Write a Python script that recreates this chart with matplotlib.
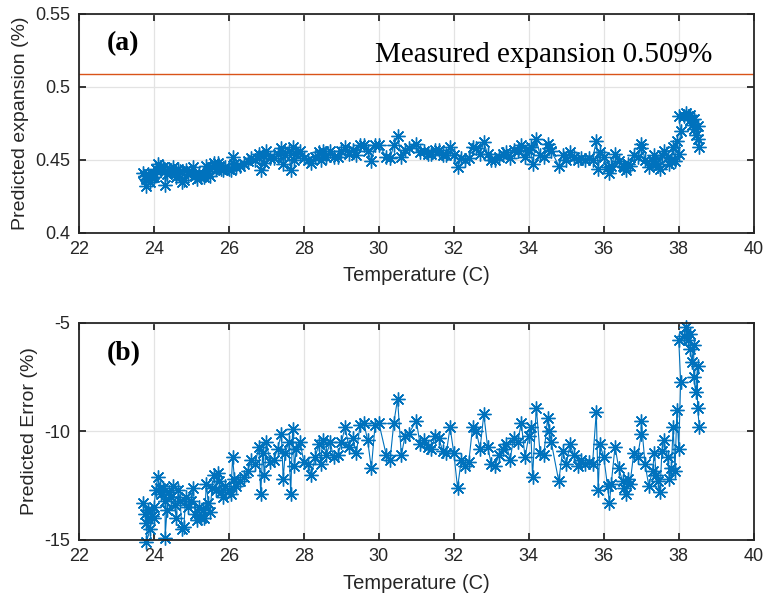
import matplotlib
matplotlib.use("Agg")
import matplotlib.pyplot as plt
from matplotlib.ticker import FuncFormatter, MultipleLocator

temperature = [
    23.70, 23.75, 23.80, 23.85, 23.80, 23.90, 23.95, 24.00, 24.00, 24.05,
    24.10, 24.15, 24.20, 24.25, 24.30, 24.30, 24.35, 24.40, 24.45, 24.50,
    24.55, 24.60, 24.65, 24.70, 24.75, 24.80, 24.85, 24.90, 25.00, 25.05,
    25.10, 25.15, 25.20, 25.25, 25.30, 25.35, 25.40, 25.45, 25.50, 25.55,
    25.60, 25.65, 25.70, 25.75, 25.80, 25.85, 25.90, 26.00, 26.05, 26.10,
    26.15, 26.20, 26.30, 26.40, 26.50, 26.60, 26.70, 26.80, 26.85, 26.90,
    26.95, 27.00, 27.10, 27.20, 27.30, 27.40, 27.45, 27.50, 27.60, 27.65,
    27.70, 27.75, 27.80, 27.90, 28.00, 28.10, 28.20, 28.30, 28.40, 28.45,
    28.50, 28.60, 28.70, 28.80, 28.90, 29.00, 29.10, 29.20, 29.30, 29.40,
    29.50, 29.60, 29.70, 29.80, 29.90, 30.00, 30.20, 30.30, 30.40, 30.50,
    30.60, 30.70, 30.80, 31.00, 31.10, 31.20, 31.30, 31.40, 31.50, 31.60,
    31.70, 31.80, 31.90, 32.00, 32.10, 32.20, 32.30, 32.40, 32.50, 32.60,
    32.70, 32.80, 32.90, 33.00, 33.10, 33.20, 33.30, 33.40, 33.50, 33.60,
    33.70, 33.80, 33.90, 34.00, 34.05, 34.10, 34.20, 34.30, 34.40, 34.50,
    34.55, 34.60, 34.80, 34.90, 35.00, 35.10, 35.20, 35.30, 35.40, 35.50,
    35.60, 35.70, 35.80, 35.85, 35.90, 36.00, 36.10, 36.15, 36.20, 36.30,
    36.40, 36.50, 36.55, 36.60, 36.65, 36.70, 36.80, 36.90, 37.00, 37.00,
    37.10, 37.20, 37.30, 37.35, 37.40, 37.45, 37.50, 37.55, 37.60, 37.70,
    37.75, 37.80, 37.85, 37.90, 37.95, 38.00, 38.05, 38.00, 38.15, 38.20,
    38.25, 38.30, 38.30, 38.35, 38.40, 38.40, 38.45, 38.50, 38.50, 38.55,
]

predicted_expansion = [
    0.441, 0.439, 0.437, 0.440, 0.432, 0.435, 0.438, 0.438, 0.440, 0.444,
    0.447, 0.445, 0.443, 0.445, 0.442, 0.433, 0.440, 0.444, 0.443, 0.445,
    0.441, 0.438, 0.444, 0.442, 0.435, 0.436, 0.443, 0.440, 0.442, 0.445,
    0.439, 0.437, 0.440, 0.438, 0.440, 0.438, 0.446, 0.441, 0.439, 0.445,
    0.448, 0.444, 0.448, 0.446, 0.444, 0.443, 0.445, 0.444, 0.443, 0.452,
    0.447, 0.445, 0.446, 0.447, 0.449, 0.451, 0.450, 0.454, 0.443, 0.453,
    0.448, 0.456, 0.451, 0.451, 0.454, 0.458, 0.447, 0.453, 0.456, 0.443,
    0.459, 0.450, 0.454, 0.456, 0.451, 0.450, 0.448, 0.452, 0.455, 0.450,
    0.456, 0.452, 0.456, 0.452, 0.452, 0.456, 0.459, 0.454, 0.457, 0.453,
    0.460, 0.460, 0.456, 0.449, 0.460, 0.460, 0.452, 0.451, 0.460, 0.466,
    0.452, 0.457, 0.458, 0.461, 0.455, 0.456, 0.454, 0.454, 0.457, 0.457,
    0.453, 0.453, 0.459, 0.453, 0.445, 0.451, 0.450, 0.451, 0.459, 0.458,
    0.454, 0.462, 0.454, 0.450, 0.450, 0.452, 0.454, 0.455, 0.451, 0.457,
    0.456, 0.460, 0.452, 0.457, 0.459, 0.447, 0.464, 0.453, 0.452, 0.461,
    0.458, 0.456, 0.446, 0.453, 0.450, 0.455, 0.452, 0.450, 0.451, 0.450,
    0.451, 0.450, 0.463, 0.444, 0.455, 0.452, 0.445, 0.441, 0.446, 0.454,
    0.449, 0.446, 0.445, 0.443, 0.447, 0.446, 0.453, 0.452, 0.458, 0.461,
    0.450, 0.445, 0.449, 0.453, 0.448, 0.446, 0.444, 0.453, 0.456, 0.452,
    0.447, 0.449, 0.459, 0.449, 0.463, 0.454, 0.470, 0.480, 0.480, 0.482,
    0.480, 0.481, 0.477, 0.474, 0.478, 0.471, 0.467, 0.473, 0.464, 0.459,
]

predicted_error = [
    -13.3, -13.8, -14.2, -13.6, -15.1, -14.5, -13.9, -14.0, -13.5, -12.7,
    -12.1, -12.6, -12.9, -12.6, -13.2, -14.9, -13.6, -12.8, -13.0, -12.5,
    -13.4, -14.0, -12.7, -13.2, -14.5, -14.4, -13.0, -13.5, -13.2, -12.6,
    -13.8, -14.1, -13.5, -14.0, -13.6, -14.0, -12.4, -13.3, -13.7, -12.6,
    -12.0, -12.7, -11.9, -12.3, -12.8, -13.0, -12.5, -12.7, -12.9, -11.2,
    -12.2, -12.5, -12.3, -12.1, -11.8, -11.3, -11.5, -10.7, -12.9, -11.0,
    -12.0, -10.5, -11.4, -11.3, -10.8, -10.1, -12.2, -11.0, -10.5, -12.9,
    -9.9, -11.6, -10.8, -10.5, -11.4, -11.5, -12.0, -11.2, -10.6, -11.5,
    -10.4, -11.1, -10.5, -11.2, -11.1, -10.5, -9.8, -10.7, -10.3, -11.0,
    -9.7, -9.6, -10.4, -11.7, -9.7, -9.6, -11.1, -11.3, -9.6, -8.5,
    -11.1, -10.2, -10.1, -9.5, -10.6, -10.4, -10.7, -10.8, -10.2, -10.3,
    -10.9, -11.0, -9.8, -11.0, -12.6, -11.3, -11.6, -11.4, -9.8, -10.0,
    -10.8, -9.2, -10.7, -11.5, -11.6, -11.1, -10.8, -10.6, -11.3, -10.3,
    -10.5, -9.6, -11.2, -10.2, -9.8, -12.1, -8.9, -11.0, -11.1, -9.4,
    -10.0, -10.5, -12.3, -10.9, -11.5, -10.6, -11.1, -11.6, -11.3, -11.5,
    -11.4, -11.5, -9.1, -12.7, -10.6, -11.2, -12.5, -13.3, -12.4, -10.7,
    -11.7, -12.3, -12.6, -12.9, -12.2, -12.4, -11.0, -11.2, -10.1, -9.5,
    -11.5, -12.5, -11.8, -11.0, -12.0, -12.3, -12.8, -10.9, -10.4, -11.2,
    -12.2, -11.7, -9.8, -11.8, -9.0, -10.8, -7.7, -5.8, -5.6, -5.2,
    -5.8, -5.5, -6.2, -6.8, -6.0, -7.5, -8.2, -7.0, -8.9, -9.8,
]

measured_expansion = 0.509
measured_label = "Measured expansion 0.509%"

plt.rcParams['font.family'] = ['Liberation Sans', 'DejaVu Sans']
plt.rcParams['axes.unicode_minus'] = False

BLUE = '#0072BD'
RED = '#D95319'
DARK = '#262626'
ASTER = (8, 2, 0)

fig = plt.figure(figsize=(7.66, 6.03), dpi=100)
ax1 = fig.add_axes([0.103, 0.614, 0.881, 0.363])
ax2 = fig.add_axes([0.103, 0.1045, 0.881, 0.36])

fmt = FuncFormatter(lambda v, p: ('%g' % round(v, 4)))

def style(ax):
    ax.set_xlim(22, 40)
    ax.xaxis.set_major_locator(MultipleLocator(2))
    ax.grid(True, color='#e3e3e3', linewidth=0.9)
    ax.set_axisbelow(True)
    for s in ax.spines.values():
        s.set_color(DARK)
        s.set_linewidth(1.3)
    ax.tick_params(direction='in', length=5, width=1.3, top=True, right=True,
                   labelsize=13, colors=DARK, pad=6)
    ax.yaxis.set_major_formatter(fmt)
    ax.set_xlabel('Temperature (C)', fontsize=14.5, color=DARK, labelpad=6)

ax1.plot(temperature, predicted_expansion, color=BLUE, linewidth=0.8,
         marker=ASTER, markersize=10, markeredgewidth=1.0)
ax1.axhline(measured_expansion, color=RED, linewidth=1.0)
ax1.set_ylim(0.4, 0.55)
ax1.yaxis.set_major_locator(MultipleLocator(0.05))
style(ax1)
ax1.set_ylabel('Predicted expansion (%)', fontsize=14, color=DARK, labelpad=5)
ax1.text(22.75, 0.5295, '(a)', fontsize=20, fontweight='bold',
         family='Liberation Serif', ha='left', va='center')
ax1.text(29.9, 0.522, measured_label, fontsize=21,
         family='Liberation Serif', ha='left', va='center')

ax2.plot(temperature, predicted_error, color=BLUE, linewidth=0.8,
         marker=ASTER, markersize=10, markeredgewidth=1.0, clip_on=False)
ax2.set_ylim(-15, -5)
ax2.yaxis.set_major_locator(MultipleLocator(5))
style(ax2)
ax2.set_ylabel('Predicted Error (%)', fontsize=14, color=DARK, labelpad=5)
ax2.text(22.75, -6.4, '(b)', fontsize=20, fontweight='bold',
         family='Liberation Serif', ha='left', va='center')

fig.savefig('out.png', dpi=100)
